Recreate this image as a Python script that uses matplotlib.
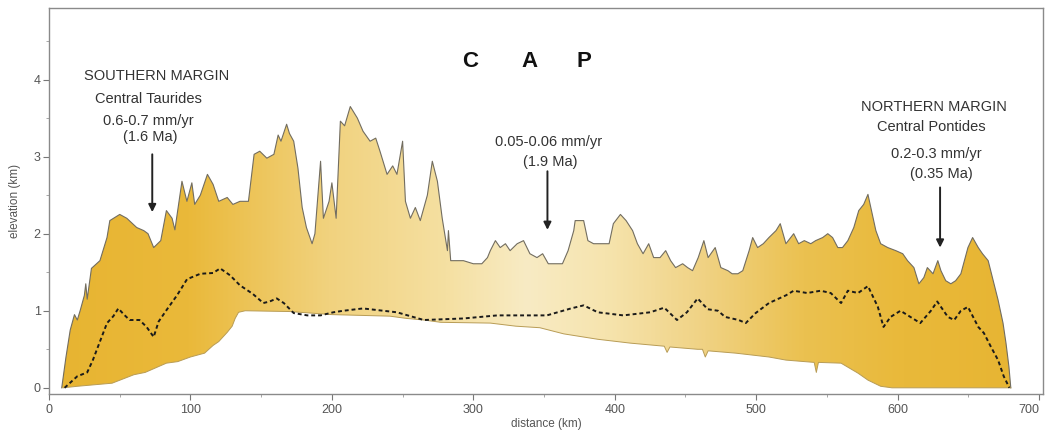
import numpy as np
import matplotlib
matplotlib.use("Agg")
import matplotlib.pyplot as plt
from matplotlib.colors import LinearSegmentedColormap
from matplotlib.ticker import MultipleLocator

# ---------------- data (km) ----------------
max_x = [9, 12, 15, 18, 20, 22, 25, 26, 27, 30, 36, 41, 43, 50, 55, 62, 67, 70, 74, 79, 83, 87, 89,
         94, 97.5, 101, 103, 107, 112, 116, 120, 126, 130, 135, 141, 145, 149, 154, 159, 162, 164,
         168, 170, 173, 176, 179, 182, 186, 188, 192, 194, 198, 200, 203, 206, 209, 213, 218, 222,
         227, 231, 234, 239, 243, 246, 250, 252, 255.5, 259, 262.5, 267.5, 271, 274.6, 278, 281.7,
         282.4, 284, 293, 300, 306, 310, 312, 315.6, 319, 322.7, 326, 331, 335.5, 340, 345, 349,
         353, 358, 363, 367, 371, 372, 378, 381, 385, 391, 396, 399, 404, 408, 412.6, 416, 420,
         424, 427.5, 432, 436, 439.5, 443, 448, 451.5, 455, 459, 463, 466, 471, 475, 480, 483, 487,
         490.5, 495, 497.5, 501, 505, 509, 514, 517, 521, 526.5, 530, 534, 538.6, 542, 547, 550.6,
         554, 557.7, 561, 564.8, 569, 572.5, 576, 579, 581, 584.6, 588, 593, 598.7, 603.6, 607,
         611.5, 615, 618.5, 621, 625, 628.4, 630.6, 634, 637.6, 641, 644.7, 649.7, 653, 657, 660,
         664, 667, 671, 674.5, 676.6, 678.7, 680]
max_y = [0.0, 0.4, 0.75, 0.95, 0.88, 1.0, 1.2, 1.35, 1.15, 1.55, 1.65, 1.95, 2.17, 2.25, 2.2, 2.08,
         2.04, 2.0, 1.82, 1.91, 2.3, 2.2, 2.05, 2.68, 2.42, 2.66, 2.38, 2.5, 2.77, 2.64, 2.42,
         2.47, 2.38, 2.42, 2.42, 3.03, 3.07, 2.98, 3.03, 3.28, 3.2, 3.42, 3.3, 3.2, 2.85, 2.34,
         2.08, 1.87, 2.0, 2.94, 2.2, 2.42, 2.66, 2.2, 3.46, 3.4, 3.65, 3.5, 3.33, 3.2, 3.24, 3.07,
         2.77, 2.88, 2.77, 3.2, 2.42, 2.2, 2.34, 2.17, 2.5, 2.94, 2.68, 2.2, 1.78, 2.04, 1.65,
         1.65, 1.61, 1.61, 1.69, 1.78, 1.91, 1.82, 1.87, 1.78, 1.87, 1.91, 1.74, 1.69, 1.74, 1.61,
         1.61, 1.61, 1.78, 2.04, 2.17, 2.17, 1.91, 1.87, 1.87, 1.87, 2.13, 2.25, 2.17, 2.04, 1.87,
         1.74, 1.87, 1.69, 1.69, 1.78, 1.65, 1.56, 1.61, 1.56, 1.52, 1.69, 1.91, 1.69, 1.82, 1.56,
         1.52, 1.48, 1.48, 1.52, 1.78, 1.95, 1.82, 1.87, 1.95, 2.04, 2.13, 1.87, 2.0, 1.87,
         1.91, 1.87, 1.91, 1.95, 2.0, 1.95, 1.82, 1.82, 1.91, 2.08, 2.3, 2.38, 2.51, 2.34, 2.04,
         1.87, 1.82, 1.78, 1.74, 1.65, 1.56, 1.35, 1.43, 1.56, 1.48, 1.65, 1.52, 1.39, 1.35, 1.39,
         1.48, 1.82, 1.95, 1.82, 1.74, 1.65, 1.43, 1.14, 0.84, 0.58, 0.27, 0.0]

mean_x = [11, 20, 27, 31, 36, 41, 45.5, 49, 53, 57, 64, 69, 74, 77.5, 83.5, 90.5, 97.6, 107, 116,
          121, 128, 135, 144, 151.5, 156, 161, 166, 173, 182.6, 192, 201, 208, 222, 246, 265, 293,
          317, 352, 369, 378, 388, 406, 425, 435, 444, 451, 458.6, 465.7, 473, 478, 487.6, 492.6,
          499.6, 509, 521, 526.5, 536, 545.6, 552.7, 560, 564.8, 572, 579, 586, 590, 595, 602,
          609, 616, 623.5, 628, 635.5, 640, 644.7, 649.7, 657, 661, 666, 671, 675, 679]
mean_y = [0.0, 0.15, 0.2, 0.36, 0.6, 0.84, 0.93, 1.03, 0.95, 0.88, 0.88, 0.79, 0.66, 0.86, 1.02,
          1.2, 1.41, 1.48, 1.49, 1.55, 1.46, 1.33, 1.22, 1.1, 1.12, 1.16, 1.1, 0.97, 0.94, 0.94,
          0.98, 1.0, 1.03, 0.98, 0.88, 0.9, 0.94, 0.94, 1.03, 1.07, 0.98, 0.94, 0.98, 1.04, 0.88,
          0.98, 1.16, 1.02, 1.0, 0.92, 0.88, 0.84, 0.97, 1.1, 1.2, 1.26, 1.23, 1.26, 1.23, 1.1,
          1.26, 1.23, 1.32, 1.05, 0.79, 0.92, 1.0, 0.92, 0.84, 1.0, 1.12, 0.92, 0.88, 1.0, 1.05,
          0.79, 0.71, 0.53, 0.36, 0.15, 0.0]

min_x = [10, 20, 44.6, 60, 68, 83, 91, 100, 110, 116, 120, 126, 129.5, 131.6, 134, 138.7, 170, 200,
         241, 253, 265, 277, 312, 330, 347, 364, 388, 411, 435, 437, 439, 458.6, 462, 464, 466,
         485.5, 509, 521, 541, 542.5, 544, 560, 572, 579, 588, 596, 680]
min_y = [0.0, 0.02, 0.06, 0.17, 0.2, 0.32, 0.34, 0.4, 0.45, 0.55, 0.6, 0.72, 0.8, 0.9, 0.98, 1.0,
         0.99, 0.95, 0.93, 0.9, 0.88, 0.85, 0.84, 0.8, 0.78, 0.7, 0.63, 0.58, 0.54, 0.46, 0.53,
         0.5, 0.5, 0.4, 0.48, 0.45, 0.4, 0.36, 0.33, 0.2, 0.33, 0.32, 0.19, 0.1, 0.02, 0.0, 0.0]

x_ticks = [0, 100, 200, 300, 400, 500, 600, 700]
y_ticks = [0, 1, 2, 3, 4]

# ---------------- figure ----------------
fig = plt.figure(figsize=(10.45, 4.41), dpi=100)
ax = fig.add_axes([0.0469, 0.1066, 0.9515, 0.8755])
ax.set_xlim(0, 703)
ax.set_ylim(-0.08, 4.93)

# gradient fill between min and max profiles
poly_x = np.r_[max_x, min_x[::-1]]
poly_y = np.r_[max_y, min_y[::-1]]
patch = ax.fill(poly_x, poly_y, facecolor='none', edgecolor='none')[0]

cmap = LinearSegmentedColormap.from_list('cap', [
    (0.00, '#E7B431'), (0.14, '#EAB93A'), (0.28, '#F1D27E'), (0.40, '#F5E0A2'),
    (0.48, '#F8EBC4'), (0.56, '#F6E4AE'), (0.66, '#F0D283'), (0.76, '#EBC150'),
    (0.86, '#E9B93A'), (1.00, '#E7B431')])
grad = np.linspace(0, 1, 512).reshape(1, -1)
im = ax.imshow(grad, extent=(0, 703, -0.08, 4.93), aspect='auto', cmap=cmap,
               origin='lower', zorder=1, interpolation='bilinear')
im.set_clip_path(patch)

ax.plot(max_x, max_y, color='#726d60', lw=0.8, zorder=3)
ax.plot(min_x, min_y, color='#b89c55', lw=0.7, zorder=3)
ax.plot(mean_x, mean_y, color='#1a1a1a', lw=1.4, ls=(0, (2.0, 1.5)), zorder=4)

# ---------------- text ----------------
tc = '#333333'
fam = ['Liberation Sans', 'DejaVu Sans']
for lx, ch in [(298, 'C'), (340, 'A'), (378, 'P')]:
    ax.text(lx, 4.24, ch, ha='center', va='center', fontsize=16, fontweight='bold',
            color='#111111', family=fam)

def block(lines, arrow_x, a_from, a_to):
    for (lx, ly, s) in lines:
        ax.text(lx, ly, s, ha='center', va='center', fontsize=10.5, color=tc, family=fam)
    ax.annotate('', xy=(arrow_x, a_to), xytext=(arrow_x, a_from),
                arrowprops=dict(arrowstyle='-|>', color='#222222', lw=1.4,
                                mutation_scale=11, shrinkA=0, shrinkB=0), zorder=5)

block([(76, 4.04, 'SOUTHERN MARGIN'), (70, 3.75, 'Central Taurides'),
       (70, 3.46, '0.6-0.7 mm/yr'), (71.5, 3.26, '(1.6 Ma)')], 73, 3.03, 2.28)
block([(353, 3.19, '0.05-0.06 mm/yr'), (354.5, 2.93, '(1.9 Ma)')], 352.4, 2.81, 2.05)
block([(626, 3.64, 'NORTHERN MARGIN'), (623.5, 3.38, 'Central Pontides'),
       (627, 3.03, '0.2-0.3 mm/yr'), (630.6, 2.77, '(0.35 Ma)')], 630, 2.6, 1.82)

# ---------------- axes styling ----------------
for sp in ax.spines.values():
    sp.set_color('#8a8a8a')
    sp.set_linewidth(1.0)
ax.set_xticks(x_ticks)
ax.set_yticks(y_ticks)
ax.xaxis.set_minor_locator(MultipleLocator(50))
ax.yaxis.set_minor_locator(MultipleLocator(0.5))
ax.tick_params(axis='both', which='major', length=4, width=0.8, color='#777777',
               labelsize=9, labelcolor='#555555', direction='out')
ax.tick_params(axis='both', which='minor', length=2.5, width=0.6, color='#999999', direction='out')
ax.tick_params(axis='x', pad=3)
ax.tick_params(axis='y', pad=2)
xlabels = ax.get_xticklabels()
for lab in xlabels + ax.get_yticklabels():
    lab.set_family(fam)
xlabels[-1].set_horizontalalignment('right')
ax.set_xlabel('distance (km)', fontsize=8.5, color='#555555', family=fam, labelpad=2)
ax.set_ylabel('elevation (km)', fontsize=8.5, color='#555555', family=fam, labelpad=9)

fig.savefig('out.png', dpi=100)
